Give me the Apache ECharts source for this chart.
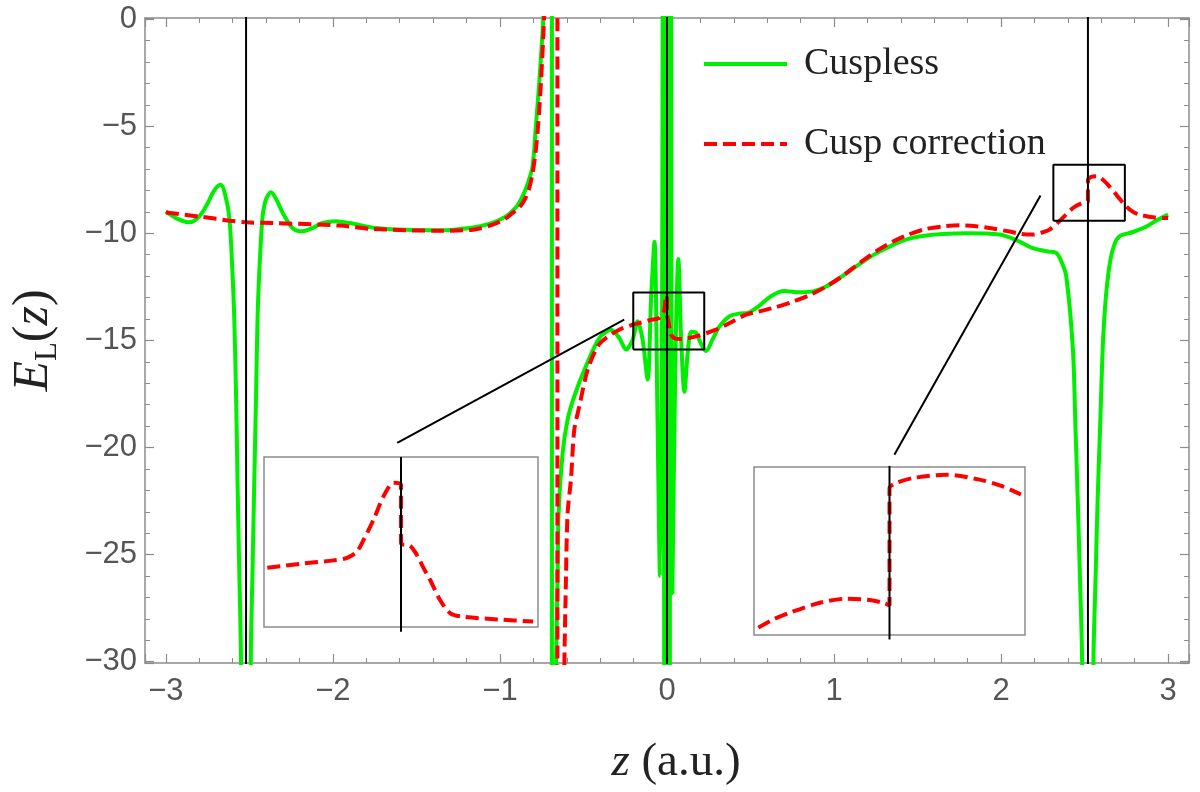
<!DOCTYPE html>
<html>
<head>
<meta charset="utf-8">
<script src="https://cdn.jsdelivr.net/npm/echarts@6/dist/echarts.min.js"></script>
<style>
  html, body { margin: 0; padding: 0; background: #fff; }
  #main { width: 1200px; height: 792px; }
</style>
</head>
<body>
<div id="main"></div>
<script>
// local energy along the molecular axis
let greenZ = [-3.00,-2.94,-2.86,-2.80,-2.75,-2.72,-2.69,-2.67,-2.645,-2.621,-2.605,-2.591,-2.58,-2.571,-2.56,-2.551,-2.535,-2.505,-2.491,-2.482,-2.471,-2.46,-2.451,-2.437,-2.421,-2.40,-2.371,-2.34,-2.30,-2.242,-2.182,-2.12,-2.062,-1.982,-1.90,-1.76,-1.56,-1.36,-1.17,-1.06,-0.964,-0.90,-0.865,-0.835,-0.805,-0.785,-0.765,-0.749,-0.741,-0.73,-0.689,-0.689,-0.665,-0.655,-0.649,-0.625,-0.595,-0.555,-0.485,-0.405,-0.335,-0.285,-0.245,-0.206,-0.176,-0.146,-0.116,-0.095,-0.075,-0.058,-0.042,-0.03,-0.022,-0.015,-0.008,-0.003,0.003,0.008,0.015,0.022,0.032,0.05,0.068,0.085,0.104,0.125,0.145,0.174,0.20,0.234,0.27,0.31,0.373,0.43,0.49,0.55,0.62,0.70,0.80,0.88,0.95,1.05,1.15,1.25,1.35,1.45,1.55,1.65,1.80,1.99,2.10,2.19,2.28,2.33,2.36,2.39,2.43,2.445,2.459,2.472,2.485,2.50,2.54,2.553,2.566,2.578,2.593,2.608,2.625,2.648,2.675,2.708,2.79,2.87,2.93,3.0];
let greenE = [-8.98,-9.29,-9.49,-9.21,-8.6,-8.12,-7.8,-7.73,-8.2,-9.21,-11.2,-13.88,-17.5,-21.66,-26,-29.44,-45,-45,-29.44,-26,-21.66,-17.5,-13.88,-11.2,-9.21,-8.4,-8.09,-8.4,-9.05,-9.75,-9.91,-9.75,-9.52,-9.44,-9.52,-9.74,-9.84,-9.86,-9.74,-9.55,-9.21,-8.75,-8.28,-7.7,-6.88,-5.0,-2.98,-1.1,0,3,200,-200,-31,-26.17,-23.06,-20.26,-18.7,-17.6,-16.2,-14.89,-14.5,-14.9,-15.43,-14.97,-14.11,-14.97,-16.83,-13.0,-10.4,-18,-26.0,-15,20,-50,50,-80,-80,50,-50,20,-26.8,-16,-11.2,-15,-17.4,-15.5,-14.6,-14.65,-15.1,-15.5,-15.0,-14.4,-13.88,-13.75,-13.7,-13.4,-12.95,-12.7,-12.75,-12.7,-12.5,-12.0,-11.45,-10.95,-10.55,-10.25,-10.1,-10.03,-10.0,-10.06,-10.35,-10.69,-10.85,-10.92,-11.3,-12.0,-15.43,-19,-22.44,-26,-29.9,-45,-45,-29.9,-26,-22.44,-19,-15.43,-13.2,-11.55,-10.6,-10.14,-9.94,-9.68,-9.4,-9.13];

let redZ = [-3.0,-2.80,-2.52,-2.36,-1.96,-1.76,-1.36,-1.16,-1.044,-0.965,-0.925,-0.885,-0.85,-0.825,-0.805,-0.785,-0.77,-0.755,-0.742,-0.73,-0.656,-0.656,-0.615,-0.605,-0.595,-0.575,-0.555,-0.525,-0.475,-0.415,-0.365,-0.286,-0.206,-0.166,-0.10,-0.046,-0.025,-0.016,-0.006,0,0,0.012,0.024,0.045,0.074,0.174,0.293,0.373,0.473,0.55,0.65,0.75,0.85,0.95,1.05,1.15,1.25,1.35,1.45,1.55,1.65,1.75,1.85,1.95,2.05,2.12,2.19,2.25,2.29,2.36,2.43,2.48,2.52,2.52,2.55,2.578,2.61,2.648,2.70,2.748,2.79,2.83,2.92,3.0];
let redE = [-9.03,-9.22,-9.49,-9.52,-9.64,-9.80,-9.88,-9.83,-9.60,-9.3,-9.05,-8.8,-8.4,-7.9,-7.2,-6.1,-4.8,-3.0,-1.0,1.5,200,-200,-31,-26.17,-23.06,-21.5,-19.17,-18.08,-16.37,-15.28,-14.89,-14.5,-14.27,-14.19,-14.05,-13.95,-13.75,-13.57,-12.95,-12.9,-13.72,-14.3,-14.73,-14.9,-14.94,-14.81,-14.5,-14.2,-13.8,-13.65,-13.45,-13.2,-12.9,-12.5,-12.0,-11.4,-10.85,-10.4,-10.05,-9.8,-9.68,-9.63,-9.67,-9.78,-9.92,-10.03,-10.06,-9.95,-9.83,-9.35,-8.82,-8.6,-8.5,-7.5,-7.35,-7.34,-7.5,-7.81,-8.3,-8.74,-9.0,-9.13,-9.26,-9.29];

// nuclear positions
let nucleusZ = [-2.52, 0, 2.52];

// zoomed views (insets) around z = 0 and z = 2.52
let inset1Z = [-0.0976,-0.0734,-0.049,-0.0394,-0.0322,-0.0272,-0.02,-0.0128,-0.0054,0,0,0.0066,0.0116,0.0164,0.0212,0.0284,0.0358,0.0454,0.0722,0.0964];
let inset1E = [-14.43,-14.37,-14.32,-14.285,-14.19,-14.015,-13.72,-13.38,-13.18,-13.21,-14.065,-14.105,-14.24,-14.43,-14.605,-14.9,-15.095,-15.15,-15.19,-15.22];
let inset1Range = { z: [-0.1, 0.1], e: [-15.3, -12.8] };

let inset2Z = [2.4716,2.4771,2.4833,2.4943,2.5041,2.5127,2.5176,2.52,2.52,2.5225,2.5287,2.541,2.5532,2.5618,2.5685];
let inset2E = [-8.634,-8.561,-8.5,-8.412,-8.376,-8.388,-8.412,-8.436,-7.388,-7.343,-7.298,-7.269,-7.313,-7.373,-7.446];
let inset2Range = { z: [2.47, 2.57], e: [-8.7, -7.2] };

// zoom boxes and connector lines (data coordinates)
let box1 = { z: [-0.202, 0.223], e: [-15.43, -12.77] };
let box2 = { z: [2.313, 2.741], e: [-9.41, -6.80] };
let link1 = [[-1.615, -19.78], [-0.256, -14.03]];
let link2 = [[1.361, -20.34], [2.236, -8.24]];

function zip(a, b) { return a.map(function (v, i) { return [v, b[i]]; }); }
function rect(b) {
    return [[b.z[0], b.e[0]], [b.z[1], b.e[0]], [b.z[1], b.e[1]], [b.z[0], b.e[1]], [b.z[0], b.e[0]]];
}
function minus(v) { return String(v).replace('-', '\u2212'); }

let frameColor = '#8c8c8c';
let labelColor = '#555';
let green = '#00ee00';
let red = '#ff0000';

function mainAxis(pos, showLabel, extra) {
    let ax = {
        type: 'value',
        position: pos,
        gridIndex: 0,
        axisLine: { show: true, onZero: false, lineStyle: { color: frameColor, width: 1.5 } },
        axisTick: { show: true, inside: true, length: 9, lineStyle: { color: frameColor, width: 1.2 } },
        minorTick: { show: true, splitNumber: 5, length: 5, lineStyle: { color: frameColor, width: 1 } },
        splitLine: { show: false },
        axisLabel: { show: showLabel }
    };
    return Object.assign(ax, extra);
}

let myChart = echarts.init(document.getElementById('main'), null, { renderer: 'canvas' });

let xRange = { min: -3.125, max: 3.125, splitNumber: 6 };
let yRange = { min: -30.06, max: 0.05, splitNumber: 6 };
let tickFont = { color: labelColor, fontFamily: 'Liberation Sans', fontSize: 31, showMinLabel: false, showMaxLabel: false, formatter: minus };

let option = {
    animation: false,
    backgroundColor: '#fff',
    grid: [
        { left: 145, right: 11, top: 18, bottom: 129 },
        { left: 264, top: 457, width: 274, height: 170, show: true, backgroundColor: '#fff', borderColor: '#8c8c8c', borderWidth: 1.5 },
        { left: 754, top: 467, width: 271, height: 168, show: true, backgroundColor: '#fff', borderColor: '#8c8c8c', borderWidth: 1.5 }
    ],
    legend: {
        orient: 'vertical',
        left: 697,
        top: 39,
        itemWidth: 83,
        itemHeight: 14,
        itemGap: 40,
        data: ['Cuspless', 'Cusp correction'],
        itemStyle: { color: 'rgba(0,0,0,0)', borderWidth: 0, opacity: 0 },
        lineStyle: { width: 4 },
        textStyle: {
            fontFamily: 'Liberation Serif',
            fontSize: 38,
            color: '#222',
            lineHeight: 40,
            padding: [0, 0, 0, 12]
        }
    },
    xAxis: [
        mainAxis('bottom', true, Object.assign({
            name: '{i|z} (a.u.)',
            nameLocation: 'middle',
            nameGap: 76,
            nameTextStyle: {
                fontFamily: 'Liberation Serif', fontSize: 47, color: '#222', padding: [0, 0, 0, 18],
                rich: { i: { fontFamily: 'Liberation Serif', fontStyle: 'italic', fontSize: 47, color: '#222' } }
            },
            axisLabel: Object.assign({ margin: 13 }, tickFont)
        }, xRange)),
        mainAxis('top', false, Object.assign({}, xRange)),
        { type: 'value', gridIndex: 1, min: inset1Range.z[0], max: inset1Range.z[1], show: false },
        { type: 'value', gridIndex: 2, min: inset2Range.z[0], max: inset2Range.z[1], show: false }
    ],
    yAxis: [
        mainAxis('left', true, Object.assign({
            name: '{i|E}{s|L}{n|(}{i|z}{n|)}',
            nameLocation: 'middle',
            nameGap: 82,
            nameRotate: 90,
            nameTextStyle: {
                fontFamily: 'Liberation Serif', fontSize: 50, color: '#222',
                rich: {
                    i: { fontFamily: 'Liberation Serif', fontStyle: 'italic', fontSize: 50, color: '#222', lineHeight: 58 },
                    n: { fontFamily: 'Liberation Serif', fontSize: 50, color: '#222', lineHeight: 58 },
                    s: { fontFamily: 'Liberation Serif', fontSize: 31, color: '#222', verticalAlign: 'bottom', lineHeight: 30 }
                }
            },
            axisLabel: Object.assign({ margin: 8 }, tickFont)
        }, yRange)),
        mainAxis('right', false, Object.assign({}, yRange)),
        { type: 'value', gridIndex: 1, min: inset1Range.e[0], max: inset1Range.e[1], show: false },
        { type: 'value', gridIndex: 2, min: inset2Range.e[0], max: inset2Range.e[1], show: false }
    ],
    series: [
        {
            name: 'Cuspless',
            type: 'line',
            xAxisIndex: 0, yAxisIndex: 0,
            data: zip(greenZ, greenE),
            showSymbol: false, symbol: 'none',
            smooth: 0.3,
            lineStyle: { color: green, width: 4 },
            itemStyle: { color: green },
            z: 2
        },
        {
            name: 'Cusp correction',
            type: 'line',
            xAxisIndex: 0, yAxisIndex: 0,
            data: zip(redZ, redE),
            showSymbol: false, symbol: 'none',
            smooth: 0.3,
            lineStyle: { color: red, width: 4, type: [13, 6] },
            itemStyle: { color: red },
            z: 3
        }
    ].concat(nucleusZ.map(function (z) {
        return {
            type: 'line', xAxisIndex: 0, yAxisIndex: 0, silent: true,
            data: [[z, -31], [z, 1]], symbol: 'none',
            lineStyle: { color: '#000', width: 2 }, z: 4
        };
    })).concat([box1, box2].map(function (b) {
        return {
            type: 'line', xAxisIndex: 0, yAxisIndex: 0, silent: true,
            data: rect(b), symbol: 'none',
            lineStyle: { color: '#000', width: 2 }, z: 5
        };
    })).concat([link1, link2].map(function (l) {
        return {
            type: 'line', xAxisIndex: 0, yAxisIndex: 0, silent: true,
            data: l, symbol: 'none',
            lineStyle: { color: '#000', width: 2 }, z: 5
        };
    })).concat([
        {
            type: 'line', xAxisIndex: 2, yAxisIndex: 2, silent: true,
            data: zip(inset1Z, inset1E), symbol: 'none', smooth: 0.3,
            lineStyle: { color: red, width: 4, type: [13, 6] }, z: 6
        },
        {
            type: 'line', xAxisIndex: 2, yAxisIndex: 2, silent: true, clip: false,
            data: [[0, -15.37], [0, -12.8]], symbol: 'none',
            lineStyle: { color: '#000', width: 2 }, z: 7
        },
        {
            type: 'line', xAxisIndex: 3, yAxisIndex: 3, silent: true,
            data: zip(inset2Z, inset2E), symbol: 'none', smooth: 0.3,
            lineStyle: { color: red, width: 4, type: [13, 6] }, z: 6
        },
        {
            type: 'line', xAxisIndex: 3, yAxisIndex: 3, silent: true, clip: false,
            data: [[2.52, -8.74], [2.52, -7.19]], symbol: 'none',
            lineStyle: { color: '#000', width: 2 }, z: 7
        }
    ])
};
myChart.setOption(option);
</script>
</body>
</html>
